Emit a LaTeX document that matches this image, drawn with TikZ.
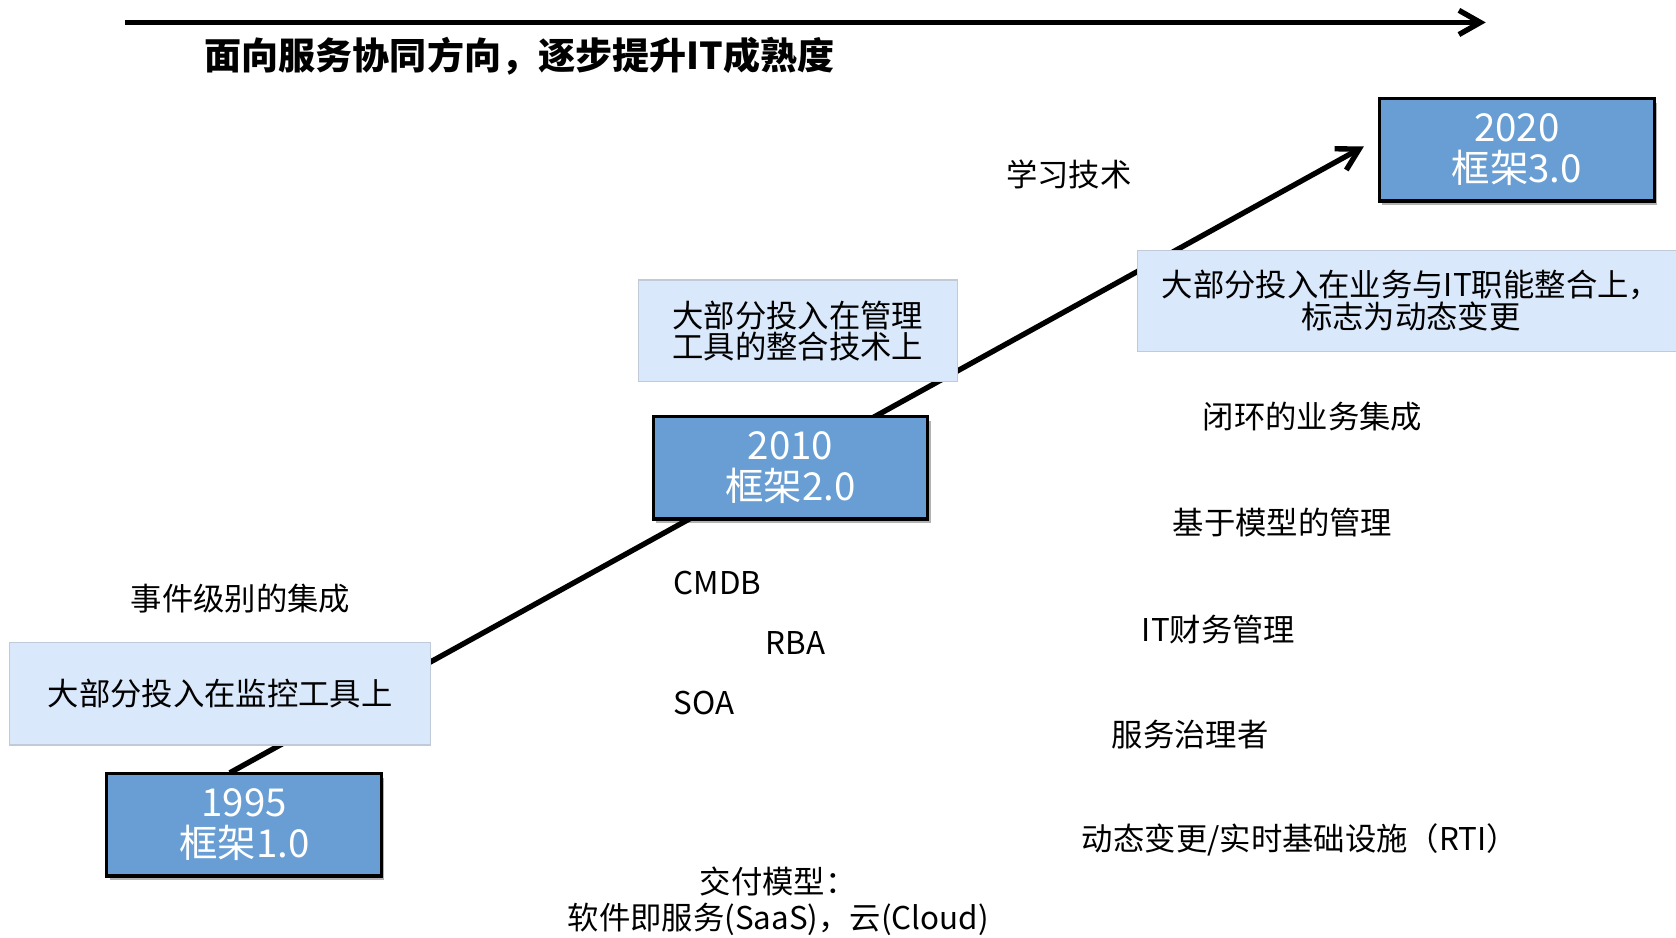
\documentclass[tikz,border=0pt]{standalone}
\usepackage{fontspec}
\setmainfont{Noto Sans CJK SC}
\usetikzlibrary{arrows.meta,shadows}
\definecolor{darkbox}{RGB}{104,158,211}
\definecolor{lightbox}{RGB}{218,232,251}
\definecolor{lightedge}{RGB}{192,202,216}
\tikzset{
  yearbox/.style={draw=black, line width=2.2pt, fill=darkbox, text=white,
    minimum width=192.75pt, minimum height=72pt, inner sep=0pt, align=center,
    font=\fontsize{27}{28.5}\selectfont,
    drop shadow={shadow xshift=2pt, shadow yshift=-3pt, opacity=0.3, fill=black}},
  notebox/.style={draw=lightedge, line width=0.8pt, fill=lightbox, text=black,
    inner sep=0pt, align=center, font=\fontsize{22}{21.5}\selectfont},
  lbl/.style={font=\fontsize{22}{25.5}\selectfont, inner sep=0pt, align=center},
  mainline/.style={line width=3.75pt, line cap=butt},
  barb/.style={-{Straight Barb[length=15pt,width=17pt]}}
}
\begin{document}
\begin{tikzpicture}[x=0.75pt,y=-0.75pt]
\useasboundingbox (0,0) rectangle (1568,877);
% top arrow
\coordinate (topA) at (117,21);
\coordinate (topB) at (1390,21);
\draw[mainline, barb] (topA) -- (topB);
\node[lbl, font=\fontsize{26}{30}\bfseries] (title) at (486,53) {面向服务协同方向，逐步提升IT成熟度};
% diagonal
\coordinate (diagA) at (215,723);
\coordinate (diagB) at (1276,137);
\draw[mainline, barb] (diagA) -- (diagB);
% note boxes
\node[notebox, minimum width=295.5pt, minimum height=72pt] (n1) at (206,649) {大部分投入在监控工具上};
\node[notebox, minimum width=224.25pt, minimum height=71.25pt] (n2) at (746.5,309.5) {大部分投入在管理\\工具的整合技术上};
\node[notebox, minimum width=384pt, minimum height=71.25pt, font=\fontsize{22}{22.5}\selectfont] (n3) at (1320,281.5) {大部分投入在业务与IT职能整合上，\\标志为动态变更};
% year boxes
\node[yearbox] (y1) at (228.5,771.5) {1995\\框架1.0};
\node[yearbox] (y2) at (739.5,437.5) {2010\\框架2.0};
\node[yearbox] (y3) at (1419,140) {2020\\框架3.0};
% labels
\node[lbl] (l1) at (1000,163) {学习技术};
\node[lbl] (l2) at (225,560) {事件级别的集成};
\node[lbl, anchor=west] (l3) at (630,545) {CMDB};
\node[lbl, anchor=west] (l4) at (716,602) {RBA};
\node[lbl, anchor=west] (l5) at (630,658) {SOA};
\node[lbl, anchor=west] (l6) at (1125,390) {闭环的业务集成};
\node[lbl, anchor=west] (l7) at (1097,489) {基于模型的管理};
\node[lbl, anchor=west] (l8) at (1068,589) {IT财务管理};
\node[lbl, anchor=west] (l9) at (1040,687) {服务治理者};
\node[lbl, anchor=west] (l10) at (1012,786) {动态变更/实时基础设施（RTI）};
\node[lbl] (l11) at (728,843) {交付模型：\\软件即服务(SaaS)，云(Cloud)};
\end{tikzpicture}
\end{document}
